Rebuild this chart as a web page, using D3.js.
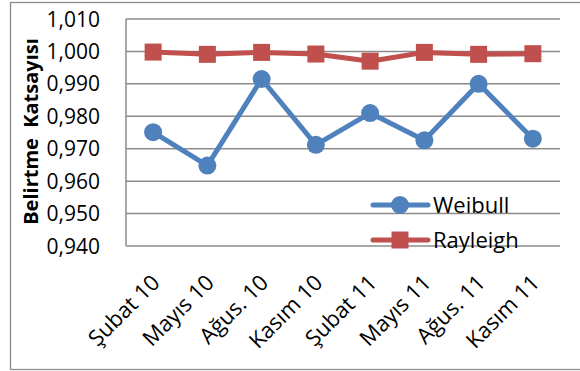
<!DOCTYPE html>
<html>
<head>
<meta charset="utf-8">
<script src="https://cdn.jsdelivr.net/npm/d3@7/dist/d3.min.js"></script>
<style>
  html, body { margin: 0; padding: 0; background: #fff; }
  svg text { font-family: "Open Sans", "Liberation Sans", sans-serif; fill: #000; }
</style>
</head>
<body>
<svg id="chart" width="580" height="371"></svg>
<script>
// Monthly sample labels
const categories = ["Şubat 10", "Mayıs 10", "Ağus. 10", "Kasım 10", "Şubat 11", "Mayıs 11", "Ağus. 11", "Kasım 11"];
// Coefficient of determination for each distribution fit
const weibull = [0.9751, 0.9648, 0.9915, 0.9712, 0.9810, 0.9726, 0.9900, 0.9731];
const rayleigh = [0.9998, 0.9991, 0.9997, 0.9992, 0.9970, 0.9997, 0.9991, 0.9993];
// Value axis ticks
const yTicks = [0.940, 0.950, 0.960, 0.970, 0.980, 0.990, 1.000, 1.010];
const yTitle = "Belirtme  Katsayısı";

const svg = d3.select("#chart");
const plot = { left: 126, right: 560, top: 19, bottom: 246 };

const x = d3.scaleBand().domain(categories).range([plot.left, plot.right]);
const y = d3.scaleLinear().domain([0.940, 1.010]).range([plot.bottom, plot.top]);
const fmt = v => d3.format(".3f")(v).replace(".", ",");

// Outer chart border
svg.append("rect")
  .attr("x", 10.5).attr("y", 2.5).attr("width", 575).attr("height", 367)
  .attr("fill", "none").attr("stroke", "#8c8c8c").attr("stroke-width", 1.3);

// Horizontal gridlines
svg.append("g").selectAll("line").data(yTicks).join("line")
  .attr("x1", plot.left).attr("x2", plot.right)
  .attr("y1", d => y(d)).attr("y2", d => y(d))
  .attr("stroke", "#8c8c8c").attr("stroke-width", 1.5);

// Value axis line
svg.append("line")
  .attr("x1", plot.left).attr("x2", plot.left)
  .attr("y1", plot.top).attr("y2", plot.bottom)
  .attr("stroke", "#8c8c8c").attr("stroke-width", 1.5);

// Value axis labels
svg.append("g").selectAll("text").data(yTicks).join("text")
  .attr("x", 100).attr("y", d => y(d))
  .attr("text-anchor", "end").attr("dy", "0.36em")
  .style("font-size", "21px")
  .text(fmt);

// Value axis title
svg.append("text")
  .attr("transform", `translate(38, ${(plot.top + plot.bottom) / 2 - 1}) rotate(-90)`)
  .attr("text-anchor", "middle")
  .style("font-size", "20px").style("font-weight", "bold")
  .style("white-space", "pre")
  .text(yTitle);

// Category labels, rotated
svg.append("g").selectAll("text").data(categories).join("text")
  .attr("transform", d => `translate(${x(d) + x.bandwidth() / 2 + 8}, ${plot.bottom + 38}) rotate(-45)`)
  .attr("text-anchor", "end")
  .style("font-size", "22px")
  .text(d => d);

const cx = d => x(d) + x.bandwidth() / 2;
const line = d3.line().x((d, i) => cx(categories[i])).y(d => y(d));

const series = [
  { name: "Weibull", values: weibull, color: "#4F81BD", shape: "circle" },
  { name: "Rayleigh", values: rayleigh, color: "#C0504D", shape: "square" }
];

function marker(g, shape, color) {
  if (shape === "circle") {
    g.append("circle").attr("r", 9).attr("fill", color);
  } else {
    g.append("rect").attr("x", -8.5).attr("y", -8.5).attr("width", 17).attr("height", 17).attr("fill", color);
  }
}

series.forEach(s => {
  svg.append("path").datum(s.values)
    .attr("d", line).attr("fill", "none")
    .attr("stroke", s.color).attr("stroke-width", 5).attr("stroke-linejoin", "round");
  s.values.forEach((v, i) => {
    const g = svg.append("g").attr("transform", `translate(${cx(categories[i])}, ${y(v)})`);
    marker(g, s.shape, s.color);
  });
});

// Legend
const legendY = [205, 240];
series.forEach((s, i) => {
  const g = svg.append("g").attr("transform", `translate(400, ${legendY[i]})`);
  g.append("line").attr("x1", -27).attr("x2", 28).attr("y1", 0).attr("y2", 0)
    .attr("stroke", s.color).attr("stroke-width", 5).attr("stroke-linecap", "round");
  marker(g, s.shape, s.color);
  g.append("text").attr("x", 33).attr("y", 0).attr("dy", "0.36em")
    .style("font-size", "22px").text(s.name);
});
</script>
</body>
</html>
